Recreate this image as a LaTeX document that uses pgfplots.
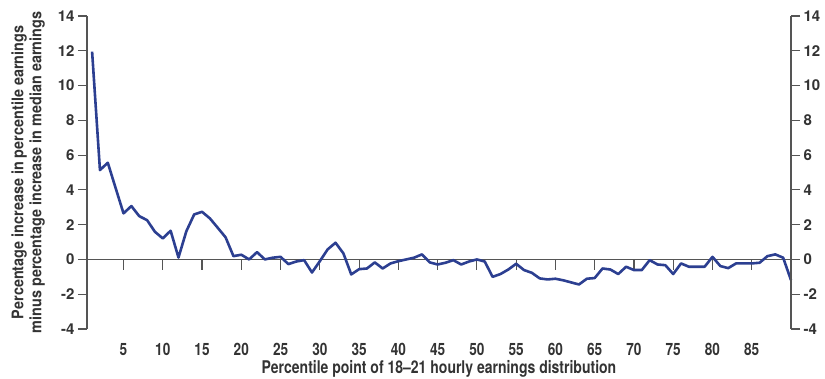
\documentclass[border=0pt]{standalone}
\usepackage{pgfplots}
\pgfplotsset{compat=1.18}
\usepackage{fontspec}
\setmainfont{TeX Gyre Heros}
\newfontfamily\narrowfont{TeX Gyre Heros}[FakeStretch=0.8]
\newfontfamily\labelfont{TeX Gyre Heros}[FakeStretch=0.9]
\definecolor{linecol}{HTML}{2C3F91}
\definecolor{txt}{HTML}{333333}
\definecolor{axcol}{HTML}{555555}

\begin{document}
\begin{tikzpicture}
% left axis with data
\begin{axis}[
    name=main,
    scale only axis,
    width=704pt, height=313pt,
    xmin=0.35, xmax=90,
    ymin=-4, ymax=14,
    axis x line*=bottom,
    axis y line*=left,
    x axis line style={draw=none},
    y axis line style={draw=axcol, line width=1.3pt},
    xtick={5,10,...,85},
    xtick style={draw=none},
    ytick={-4,-2,...,14},
    tick align=outside,
    major tick length=9pt,
    ytick style={draw=axcol, line width=1.1pt},
    /pgf/number format/assume math mode=true,
    yticklabel style={font=\bfseries\fontsize{15}{15}\selectfont, text=txt},
    xticklabel style={font=\narrowfont\bfseries\fontsize{17}{17}\selectfont, text=txt, yshift=-2pt},
    xlabel={Percentile point of 18–21 hourly earnings distribution},
    xlabel style={font=\narrowfont\bfseries\fontsize{17.5}{17.5}\selectfont, text=txt,
        at={(axis description cs:0.5,0)}, anchor=base, yshift=-45pt},
    ylabel={Percentage increase in percentile earnings\\minus percentage increase in median earnings},
    ylabel style={font=\labelfont\bfseries\fontsize{16}{18}\selectfont, text=txt, align=center, yshift=6pt},
    clip=false,
]
\draw[axcol, line width=1.1pt] (axis cs:0.35,0) -- (axis cs:90,0);
\pgfplotsinvokeforeach{5,10,...,85}{
    \draw[axcol, line width=1.1pt] (axis cs:#1,0) -- ([yshift=-11pt]axis cs:#1,0);
}
\addplot[color=linecol, line width=2.6pt, line join=round] coordinates {
 (1,11.95) (2,5.14) (3,5.56) (4,4.1) (5,2.65) (6,3.07) (7,2.49) (8,2.26) (9,1.59) (10,1.21)
 (11,1.65) (12,0.11) (13,1.62) (14,2.59) (15,2.74) (16,2.36) (17,1.82) (18,1.27) (19,0.19) (20,0.27)
 (21,0.0) (22,0.42) (23,0.0) (24,0.1) (25,0.15) (26,-0.27) (27,-0.12) (28,-0.04) (29,-0.75) (30,-0.1)
 (31,0.58) (32,0.96) (33,0.35) (34,-0.86) (35,-0.56) (36,-0.52) (37,-0.17) (38,-0.52) (39,-0.23) (40,-0.1)
 (41,0.0) (42,0.1) (43,0.29) (44,-0.17) (45,-0.29) (46,-0.19) (47,-0.04) (48,-0.29) (49,-0.12) (50,0.0)
 (51,-0.12) (52,-1.0) (53,-0.84) (54,-0.58) (55,-0.25) (56,-0.61) (57,-0.77) (58,-1.09) (59,-1.15) (60,-1.11)
 (61,-1.2) (62,-1.32) (63,-1.44) (64,-1.11) (65,-1.07) (66,-0.52) (67,-0.58) (68,-0.84) (69,-0.42) (70,-0.61)
 (71,-0.61) (72,-0.04) (73,-0.29) (74,-0.33) (75,-0.84) (76,-0.23) (77,-0.42) (78,-0.42) (79,-0.42) (80,0.15)
 (81,-0.38) (82,-0.5) (83,-0.23) (84,-0.23) (85,-0.23) (86,-0.19) (87,0.19) (88,0.29) (89,0.1) (90,-1.19)
};
\end{axis}
% right axis
\begin{axis}[
    scale only axis,
    width=704pt, height=313pt,
    xmin=0.35, xmax=90,
    ymin=-4, ymax=14,
    axis x line=none,
    axis y line*=right,
    y axis line style={draw=axcol, line width=1.3pt},
    ytick={-4,-2,...,14},
    tick align=outside,
    major tick length=9pt,
    ytick style={draw=axcol, line width=1.1pt},
    /pgf/number format/assume math mode=true,
    yticklabel style={font=\bfseries\fontsize{15}{15}\selectfont, text=txt},
]
\addplot[draw=none] coordinates {(1,0)};
\end{axis}
% fix the page to the reference's margins
\pgfresetboundingbox
\path[use as bounding box] ([shift={(-87pt,-50pt)}]main.south west) rectangle ([shift={(34pt,16pt)}]main.north east);
\end{tikzpicture}
\end{document}
